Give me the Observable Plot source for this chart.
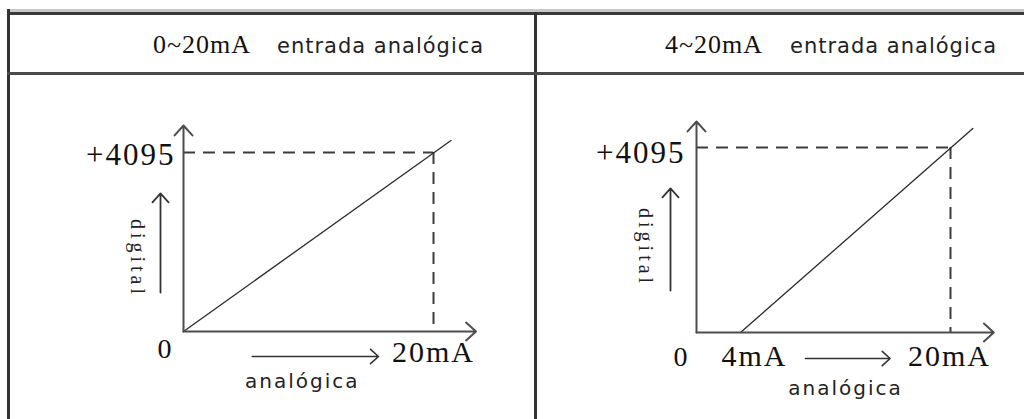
<!DOCTYPE html>
<html><head><meta charset="utf-8">
<script src="https://cdn.jsdelivr.net/npm/d3@7"></script>
<script src="https://cdn.jsdelivr.net/npm/@observablehq/plot@0.6"></script>
<style>
body{margin:0;background:#fff}
#page{position:relative;width:1024px;height:419px;overflow:hidden;background:#fff}
.b{position:absolute}
.hd{position:absolute;white-space:nowrap;line-height:1}
.serif{font-family:"Liberation Serif","Times New Roman",serif;color:#111;font-size:26px;letter-spacing:1px}
.sans{font-family:"DejaVu Sans",sans-serif;color:#222;font-size:21px;letter-spacing:1px}
.cell{position:absolute;top:75px;height:344px}
</style></head>
<body><div id="page">
<div class="b" style="left:7px;top:9px;width:1017px;height:3px;background:#c8c8c8"></div>
<div class="b" style="left:7px;top:12px;width:1017px;height:3px;background:#3a3a3a"></div>
<div class="b" style="left:7px;top:9px;width:3px;height:410px;background:#333"></div>
<div class="b" style="left:534px;top:12px;width:3px;height:407px;background:#333"></div>
<div class="b" style="left:7px;top:72px;width:1017px;height:3px;background:#4a4a4a"></div>
<div id="h0a" class="hd serif" style="left:153px;top:32px"></div>
<div id="h0b" class="hd sans" style="left:277px;top:36px"></div>
<div id="h1a" class="hd serif" style="left:665px;top:32px"></div>
<div id="h1b" class="hd sans" style="left:790px;top:36px"></div>
<div id="cellL" class="cell" style="left:10px;width:524px"></div>
<div id="cellR" class="cell" style="left:537px;width:487px"></div>
</div>
<script>
// ---- data ----
const headerRanges = ["0~20mA", "4~20mA"];
const headerText = "entrada analógica";

const fullScaleCode = 4095;
const fullScaleLabel = "+4095";
const fullScaleMA = 20;
const originLabel = "0";
const analogLabel = "analógica";
const digitalLabel = "digital";

// 0~20mA diagram
const leftTicks = [20];
const leftTickLabels = ["20mA"];
const leftLineMA = [0, 21.4];
const leftLineCode = [0, 4370];
const leftAxisTop = 4713;          // code at y-arrow tip
const leftAxisEnd = 23.4;          // mA at x-arrow tip
const leftAnalogArrow = [5.5, 15.6];
const leftDigitalArrow = [890, 3160];
const leftAnalogLabelAt = 9.5;
const leftDigitalLabelAt = 1670;

// 4~20mA diagram
const rightTicks = [4, 20];
const rightTickLabels = ["4mA", "20mA"];
const rightLineMA = [4, 21.7];
const rightLineCode = [0, 4515];
const rightAxisTop = 4670;
const rightAxisEnd = 23.3;
const rightAnalogArrow = [8.95, 15.4];
const rightDigitalArrow = [930, 3190];
const rightAnalogLabelAt = 12;
const rightDigitalLabelAt = 1880;

// ---- headers ----
document.getElementById("h0a").textContent = headerRanges[0];
document.getElementById("h0b").textContent = headerText;
document.getElementById("h1a").textContent = headerRanges[1];
document.getElementById("h1b").textContent = headerText;

const serif = "Liberation Serif, Times New Roman, serif";
const sans = "DejaVu Sans, sans-serif";

function diagram(c) {
  const axisStyle = {stroke: "#4d4d4d", strokeWidth: 2, headAngle: 84, headLength: 10};
  const dashStyle = {stroke: "#3c3c3c", strokeWidth: 2, strokeDasharray: "12,8"};
  const marks = [
    Plot.ruleY([fullScaleCode], {x1: 0, x2: fullScaleMA, ...dashStyle}),
    Plot.ruleX([fullScaleMA], {y1: fullScaleCode, y2: 0, ...dashStyle}),
    Plot.line({length: c.lineX.length}, {x: c.lineX, y: c.lineY, stroke: "#2a2a2a", strokeWidth: 1.3}),
    Plot.arrow([c.axisTop], {x1: 0, y1: 0, x2: 0, y2: d => d, ...axisStyle}),
    Plot.arrow([c.axisEnd], {x1: 0, y1: 0, x2: d => d, y2: 0, ...axisStyle}),
    Plot.arrow([c.analogArrow], {x1: d => d[0], x2: d => d[1], y1: 0, y2: 0, dy: c.o.analogArrowDy, stroke: "#333", strokeWidth: 1.6, headAngle: 84, headLength: 10}),
    Plot.arrow([c.digitalArrow], {x1: 0, x2: 0, y1: d => d[0], y2: d => d[1], dx: c.o.digitalArrowDx, stroke: "#333", strokeWidth: 1.8, headAngle: 84, headLength: 10}),
    Plot.text([fullScaleLabel], {x: 0, y: fullScaleCode, text: d => d, textAnchor: "end", lineAnchor: "bottom", dx: c.o.fsDx, dy: c.o.fsDy, fontFamily: serif, fontSize: 31, fill: "#111"}),
    Plot.text([originLabel], {x: 0, y: 0, text: d => d, textAnchor: "end", lineAnchor: "bottom", dx: c.o.zeroDx, dy: c.o.zeroDy, fontFamily: serif, fontSize: 28, fill: "#111"}),
    ...c.ticks.map((t, i) => Plot.text([c.tickLabels[i]], {x: [t], y: [0], text: d => d, textAnchor: "middle", lineAnchor: "bottom", dx: c.o.tickDx[i], dy: c.o.tickDy, fontFamily: serif, fontSize: 30, fill: "#111"})),
    Plot.text([analogLabel], {x: [c.analogAt], y: [0], text: d => d, textAnchor: "middle", lineAnchor: "bottom", dy: c.o.analogDy, fontFamily: sans, fontSize: 20, fill: "#222"}),
    Plot.text([digitalLabel], {x: [0], y: [c.digitalAt], text: d => d, rotate: 90, textAnchor: "middle", lineAnchor: "middle", dx: c.o.digitalDx, fontFamily: serif, fontSize: 20, fill: "#222"})
  ];
  const svg = Plot.plot({
    width: c.width, height: 344, margin: 0,
    style: "background:transparent;overflow:visible;letter-spacing:2px",
    x: c.x,
    y: {domain: [0, fullScaleCode], range: c.yRange, axis: null},
    marks
  });
  d3.select(svg).selectAll("text").filter(function() { return this.textContent === digitalLabel; })
    .attr("letter-spacing", "4px");
  return svg;
}

document.getElementById("cellL").appendChild(diagram({
  width: 524, x: {domain: [0, 20], range: [173, 423], axis: null}, yRange: [256, 77],
  ticks: leftTicks, tickLabels: leftTickLabels, lineX: leftLineMA, lineY: leftLineCode,
  axisTop: leftAxisTop, axisEnd: leftAxisEnd, analogArrow: leftAnalogArrow, digitalArrow: leftDigitalArrow,
  analogAt: leftAnalogLabelAt, digitalAt: leftDigitalLabelAt,
  o: {analogArrowDy: 25, digitalArrowDx: -23, fsDx: -8, fsDy: 12, zeroDx: -10, zeroDy: 26, tickDx: [0], tickDy: 30, analogDy: 56, digitalDx: -46}
}));

// The 4~20mA sketch is not drawn to scale: the 0–4 mA stretch is shorter than the rest.
const schematic = d3.scaleLinear().domain([0, 4, 20]).range([0, 44, 254]);
document.getElementById("cellR").appendChild(diagram({
  width: 487, x: {transform: schematic, domain: [0, 254], range: [159, 413], axis: null}, yRange: [257, 72],
  ticks: rightTicks, tickLabels: rightTickLabels, lineX: rightLineMA, lineY: rightLineCode,
  axisTop: rightAxisTop, axisEnd: rightAxisEnd, analogArrow: rightAnalogArrow, digitalArrow: rightDigitalArrow,
  analogAt: rightAnalogLabelAt, digitalAt: rightDigitalLabelAt,
  o: {analogArrowDy: 26, digitalArrowDx: -26, fsDx: -11, fsDy: 15, zeroDx: -7, zeroDy: 33, tickDx: [14, -1], tickDy: 33, analogDy: 62, digitalDx: -51}
}));
</script>
</body></html>
